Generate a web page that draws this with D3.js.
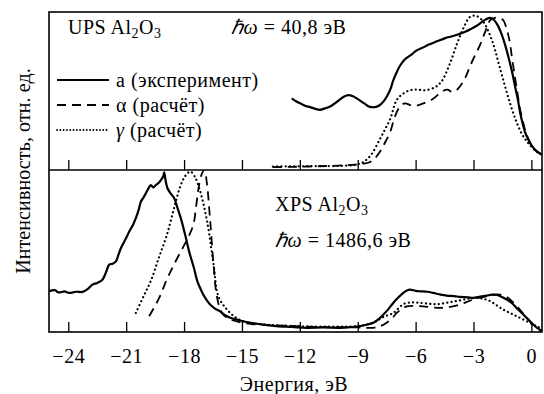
<!DOCTYPE html>
<html>
<head>
<meta charset="utf-8">
<script src="https://cdn.jsdelivr.net/npm/d3@7"></script>
<style>
  body { margin: 0; background: #fff; }
</style>
</head>
<body>
<div id="graph"></div>
<script>
// tick values of the energy axis
let xTicks = [-24, -21, -18, -15, -12, -9, -6, -3, 0];

// UPS panel, [energy eV, intensity 0..100]
let upsExp = [[-12.42,45.4],[-12.2,43.5],[-11.99,42.2],[-11.7,40.5],[-11.47,39.7],[-11.2,38.6],[-10.95,38.0],[-10.7,38.9],[-10.43,40.1],[-10.15,42.5],[-9.92,44.7],[-9.7,46.6],[-9.49,47.5],[-9.25,46.8],[-9.05,45.4],[-8.82,43.5],[-8.62,41.8],[-8.45,40.3],[-8.28,39.7],[-8.05,39.9],[-7.85,41.1],[-7.65,43.6],[-7.50,46.4],[-7.3,51.5],[-7.16,57.0],[-6.98,62.3],[-6.81,66.5],[-6.55,70.7],[-6.2,73.9],[-5.95,76.4],[-5.6,78.4],[-5.32,80.2],[-4.9,82.3],[-4.46,84.4],[-4.1,85.6],[-3.77,86.9],[-3.4,88.6],[-3.08,90.7],[-2.8,92.6],[-2.56,94.9],[-2.35,96.6],[-2.15,97.5],[-1.95,96.3],[-1.75,92.8],[-1.53,86.5],[-1.35,79.5],[-1.18,71.7],[-1.0,62.5],[-0.84,52.7],[-0.7,44.5],[-0.58,35.9],[-0.45,29.0],[-0.32,23.2],[-0.15,18.5],[0.03,14.7],[0.25,11.4],[0.54,8.9]];
let upsAlpha = [[-13.4,0.9],[-11.5,1.3],[-10,1.9],[-9.1,2.5],[-8.7,3.2],[-8.36,4.2],[-8.1,6.8],[-7.85,10.8],[-7.6,16.5],[-7.33,23.2],[-7.07,33.7],[-6.81,40.1],[-6.55,42.2],[-6.29,41.1],[-6.0,40.6],[-5.67,41.8],[-5.15,44.6],[-4.63,49.8],[-4.35,51.0],[-4.12,49.6],[-3.87,50.8],[-3.6,54.9],[-3.38,60.0],[-3.17,66.5],[-2.95,72.5],[-2.73,78.0],[-2.55,83.5],[-2.39,88.6],[-2.13,96.0],[-1.89,97.5],[-1.65,97.2],[-1.46,96.0],[-1.32,92.0],[-1.20,86.5],[-1.1,80.5],[-1.03,73.9],[-0.85,59.0],[-0.72,49.0],[-0.60,39.2],[-0.45,31.0],[-0.32,24.7],[-0.15,19.0],[0.03,14.7],[0.25,11.4],[0.54,8.9]];
let upsGamma = [[-13.4,1.3],[-11.5,1.5],[-9.5,1.9],[-9.0,2.8],[-8.7,4.2],[-8.3,9.0],[-7.85,19.0],[-7.6,25.0],[-7.33,31.6],[-6.98,44.3],[-6.64,48.5],[-6.3,50.6],[-5.9,51.1],[-5.50,50.6],[-4.98,52.7],[-4.75,55.0],[-4.57,58.0],[-4.22,68.0],[-3.87,80.2],[-3.53,90.7],[-3.18,98.1],[-2.84,98.7],[-2.49,94.9],[-2.15,86.5],[-1.89,77.0],[-1.63,65.0],[-1.36,53.0],[-1.1,42.0],[-0.8,31.0],[-0.5,22.5],[-0.2,17.0],[0.2,11.6],[0.44,9.5]];

// XPS panel, [energy eV, intensity 0..100]
let xpsExp = [[-25,24.9],[-24.7,25.6],[-24.5,24.2],[-24.2,24.8],[-23.95,23.9],[-23.6,24.6],[-23.26,24.5],[-23.0,26.2],[-22.75,29.0],[-22.5,30.1],[-22.23,32.1],[-22.05,36.5],[-21.88,41.4],[-21.7,42.0],[-21.53,43.4],[-21.4,47.6],[-21.27,51.7],[-21.05,56.8],[-20.84,61.9],[-20.65,66.0],[-20.50,70.2],[-20.35,75.5],[-20.24,80.4],[-20.1,83.0],[-19.98,85.6],[-19.85,88.5],[-19.72,90.7],[-19.6,89.2],[-19.46,90.7],[-19.3,92.2],[-19.20,93.8],[-19.08,96.0],[-19.03,98.6],[-18.95,93.0],[-18.86,88.7],[-18.7,85.5],[-18.51,82.5],[-18.35,76.8],[-18.17,70.2],[-17.95,60.2],[-17.74,49.6],[-17.5,39.8],[-17.31,31.0],[-17.15,26.5],[-17.0,22.8],[-16.8,19.0],[-16.65,16.7],[-16.4,14.2],[-16.13,12.5],[-15.9,10.2],[-15.61,8.5],[-15.35,7.6],[-15.1,6.8],[-14.6,5.5],[-14.23,4.8],[-13.7,4.0],[-13.2,3.3],[-12.4,2.8],[-11.64,2.3],[-10.8,2.5],[-9.92,2.3],[-9.4,2.7],[-8.88,3.3],[-8.5,4.3],[-8.19,5.4],[-7.9,7.8],[-7.67,10.5],[-7.4,14.0],[-7.16,17.7],[-6.9,21.0],[-6.64,23.9],[-6.45,25.4],[-6.29,25.9],[-6.0,25.2],[-5.77,24.9],[-5.4,24.6],[-5.09,23.9],[-4.7,22.8],[-4.39,22.2],[-4.0,21.9],[-3.70,21.4],[-3.3,21.2],[-3.01,20.8],[-2.65,21.6],[-2.32,22.2],[-2.05,22.8],[-1.80,22.8],[-1.55,21.5],[-1.28,19.8],[-1.0,17.5],[-0.77,14.6],[-0.5,11.5],[-0.25,8.5],[0.09,4.3],[0.3,2.2],[0.53,0.2]];
let xpsAlpha = [[-19.81,9.4],[-19.29,20.8],[-18.9,32.0],[-18.5,42.0],[-18.12,50.6],[-17.8,58.0],[-17.52,66.0],[-17.38,77.0],[-17.26,88.0],[-17.1,97.0],[-16.95,100],[-16.82,92.0],[-16.65,69.0],[-16.48,42.4],[-16.3,21.8],[-16.04,11.5],[-15.6,7.5],[-15.0,5.5],[-14.5,4.6],[-13,3.7],[-11,2.8],[-9,2.5],[-8.19,2.3],[-7.8,3.5],[-7.50,5.4],[-7.2,8.5],[-6.98,11.5],[-6.7,14.0],[-6.46,15.6],[-6.0,15.8],[-5.6,15.6],[-5.1,14.9],[-4.74,14.6],[-4.2,15.3],[-3.70,16.7],[-3.35,18.3],[-3.01,19.8],[-2.65,21.0],[-2.32,21.8],[-1.95,22.6],[-1.63,22.8],[-1.35,21.8],[-1.11,19.8],[-0.85,16.8],[-0.60,13.6],[-0.25,8.6],[0.09,4.3],[0.3,2.2],[0.53,0.2]];
let xpsGamma = [[-20.5,11.5],[-20.1,21.8],[-19.7,32.0],[-19.3,46.0],[-18.9,59.5],[-18.55,75.0],[-18.2,89.7],[-17.94,96.3],[-17.68,99.0],[-17.45,96.0],[-17.17,87.0],[-16.82,69.0],[-16.48,42.4],[-16.22,21.8],[-15.78,13.6],[-15.3,8.5],[-14.9,6.2],[-14.0,4.5],[-12,3.3],[-10,3.0],[-8.9,3.5],[-8.2,5.5],[-7.67,9.0],[-7.16,11.5],[-6.64,16.9],[-6.3,17.9],[-5.95,17.9],[-5.4,17.3],[-4.91,16.9],[-4.4,17.8],[-3.87,18.9],[-3.3,20.2],[-2.84,20.8],[-2.5,20.2],[-2.15,18.9],[-1.8,16.2],[-1.46,13.6],[-1.1,11.4],[-0.77,9.5],[-0.25,6.4],[0.27,3.3],[0.5,2.0]];

let width = 544, height = 394;
let frameL = 49, frameR = 542, frameT = 12, frameM = 170, frameB = 332;
let serif = '"Liberation Serif"';
let fs = "20px";

let svg = d3.select("#graph")
    .append("svg")
    .attr("width", width)
    .attr("height", height)
    .style("font-family", serif);

let x = d3.scaleLinear().domain([-25, 0.55]).range([frameL, frameR]);
let yUp = d3.scaleLinear().domain([0, 100]).range([frameM - 1.5, frameT + 2]);
let yLow = d3.scaleLinear().domain([0, 100]).range([frameB - 0.5, frameM]);

// clip each panel
let defs = svg.append("defs");
defs.append("clipPath").attr("id", "clipUp")
    .append("rect").attr("x", frameL).attr("y", frameT).attr("width", frameR - frameL).attr("height", frameM - frameT);
defs.append("clipPath").attr("id", "clipLow")
    .append("rect").attr("x", frameL).attr("y", frameM).attr("width", frameR - frameL).attr("height", frameB - frameM);

function drawCurve(data, yScale, clip, style) {
    let line = d3.line()
        .x(d => x(d[0]))
        .y(d => yScale(d[1]))
        .curve(d3.curveCatmullRom.alpha(0.5));
    let p = svg.append("path")
        .datum(data)
        .attr("clip-path", `url(#${clip})`)
        .attr("fill", "none")
        .attr("stroke", "#000")
        .attr("d", line);
    if (style == "solid") p.attr("stroke-width", 2.2).attr("stroke-linejoin", "round");
    if (style == "dash") p.attr("stroke-width", 1.8).attr("stroke-dasharray", "9,6");
    if (style == "dot") p.attr("stroke-width", 2.2).attr("stroke-dasharray", "0.1,4.2").attr("stroke-linecap", "round");
}

drawCurve(upsGamma, yUp, "clipUp", "dot");
drawCurve(upsAlpha, yUp, "clipUp", "dash");
drawCurve(upsExp, yUp, "clipUp", "solid");
drawCurve(xpsGamma, yLow, "clipLow", "dot");
drawCurve(xpsAlpha, yLow, "clipLow", "dash");
drawCurve(xpsExp, yLow, "clipLow", "solid");

// ticks pointing up, upper panel without labels
svg.append("g")
    .attr("transform", `translate(0,${frameM})`)
    .call(d3.axisBottom(x).tickValues(xTicks).tickSizeInner(-10).tickSizeOuter(0).tickFormat(""))
    .call(g => g.select(".domain").remove())
    .call(g => g.selectAll("line").attr("stroke-width", 1.3));

svg.append("g")
    .attr("transform", `translate(0,${frameB})`)
    .call(d3.axisBottom(x).tickValues(xTicks).tickSizeInner(-10).tickSizeOuter(0).tickPadding(17)
        .tickFormat(d => d < 0 ? "\u2212" + Math.abs(d) : "" + d))
    .call(g => g.select(".domain").remove())
    .call(g => g.selectAll("line").attr("stroke-width", 1.3))
    .call(g => g.attr("font-family", null).attr("font-size", null))
    .call(g => g.selectAll("text")
        .style("font-family", serif)
        .style("font-size", fs)
        .style("letter-spacing", "0.6px"));

// frame
svg.append("rect")
    .attr("x", frameL).attr("y", frameT)
    .attr("width", frameR - frameL).attr("height", frameB - frameT)
    .attr("fill", "none").attr("stroke", "#000").attr("stroke-width", 1.6);
svg.append("line")
    .attr("x1", frameL).attr("x2", frameR).attr("y1", frameM).attr("y2", frameM)
    .attr("stroke", "#000").attr("stroke-width", 1.6);

function addText(xp, yp) {
    return svg.append("text").attr("x", xp).attr("y", yp)
        .style("font-family", serif).style("font-size", fs)
        .style("letter-spacing", "0.5px");
}

// panel captions
function formula(xp, yp, prefix) {
    let t = addText(xp, yp);
    t.append("tspan").text(prefix + " Al");
    t.append("tspan").text("2").attr("dy", 4).style("font-size", "14px");
    t.append("tspan").text("O").attr("dy", -4);
    t.append("tspan").text("3").attr("dy", 4).style("font-size", "14px");
}
formula(68, 34, "UPS");
formula(275, 211, "XPS");

function energyLabel(xp, yp, val) {
    let t = addText(xp, yp);
    t.append("tspan").text("\u210F\u03C9").style("font-style", "italic");
    t.append("tspan").text(" = " + val + " эВ");
}
energyLabel(231, 34, "40,8");
energyLabel(275, 247, "1486,6");

// legend
let legendItems = [
    { dash: null, sym: "а", italic: false, label: " (эксперимент)" },
    { dash: "9,6", sym: "\u03B1", italic: false, label: " (расчёт)" },
    { dash: "0.1,3.2", sym: "\u03B3", italic: true, label: " (расчёт)" }
];
legendItems.forEach(function(d, i) {
    let yy = 80 + i * 25;
    let l = svg.append("line")
        .attr("x1", 57).attr("x2", 109).attr("y1", yy).attr("y2", yy)
        .attr("stroke", "#000").attr("stroke-width", d.dash == "0.1,3.2" ? 1.8 : 2);
    if (d.dash) l.attr("stroke-dasharray", d.dash);
    if (d.dash == "0.1,3.2") l.attr("stroke-linecap", "round");
    let t = addText(116, yy + 7);
    t.append("tspan").text(d.sym).style("font-style", d.italic ? "italic" : "normal");
    t.append("tspan").text(d.label);
});

// axis titles
addText(294, 391)
    .style("text-anchor", "middle")
    .text("Энергия, эВ");
svg.append("text")
    .attr("transform", "translate(30,171) rotate(-90)")
    .style("text-anchor", "middle")
    .style("font-family", serif)
    .style("font-size", fs)
    .style("letter-spacing", "0.1px")
    .text("Интенсивность, отн. ед.");
</script>
</body>
</html>
